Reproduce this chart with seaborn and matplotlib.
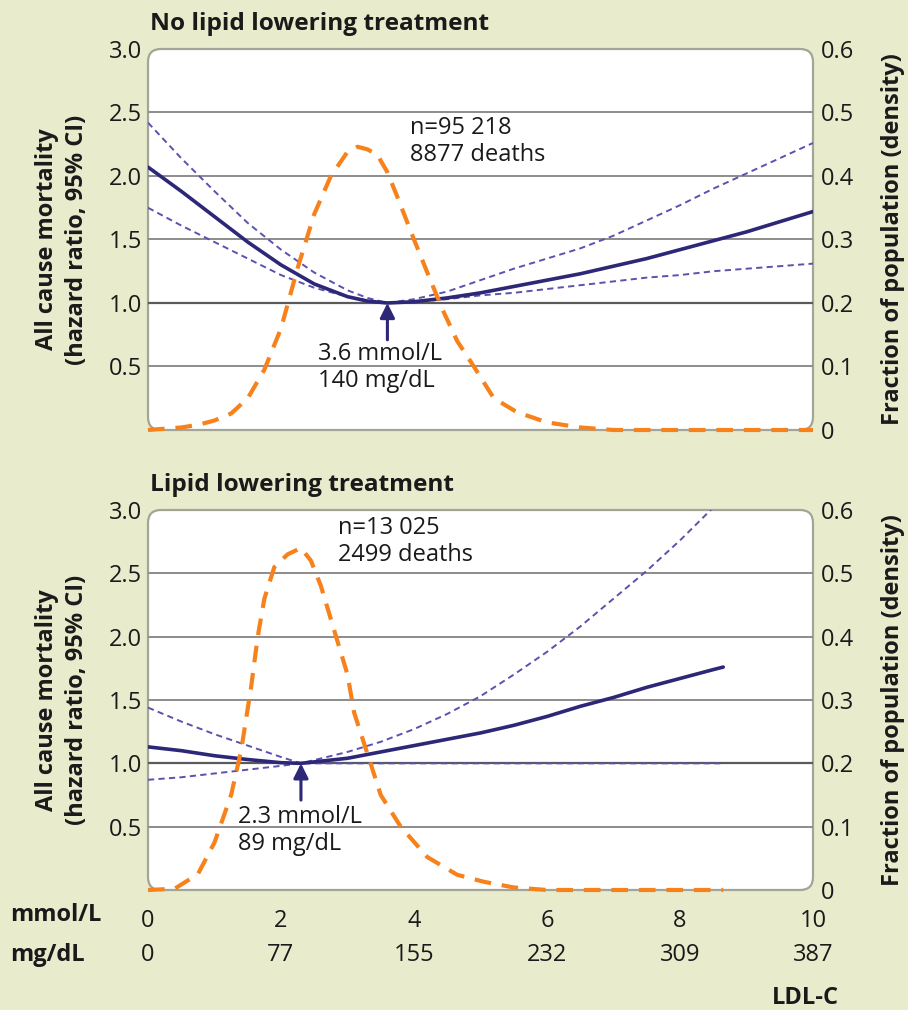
import numpy as np
import pandas as pd
import matplotlib
matplotlib.use("Agg")
import matplotlib.pyplot as plt
from matplotlib.patches import FancyBboxPatch
from matplotlib.transforms import blended_transform_factory
import seaborn as sns

# ---- data: hazard ratio curves (LDL-C in mmol/L) ----
no_tx_x = [0, 0.5, 1.0, 1.5, 2.0, 2.5, 3.0, 3.3, 3.6, 4.0, 4.5, 5.0, 5.5, 6.0,
           6.5, 7.0, 7.5, 8.0, 8.5, 9.0, 9.5, 10.0]
no_tx_hr = [2.07, 1.88, 1.68, 1.48, 1.30, 1.15, 1.05, 1.015, 1.0, 1.01, 1.04, 1.08,
            1.13, 1.18, 1.23, 1.29, 1.35, 1.42, 1.49, 1.56, 1.64, 1.72]
no_tx_hi = [2.42, 2.14, 1.88, 1.63, 1.42, 1.24, 1.10, 1.04, 1.0, 1.03, 1.09, 1.18,
            1.27, 1.35, 1.43, 1.53, 1.65, 1.77, 1.90, 2.02, 2.14, 2.26]
no_tx_lo = [1.75, 1.61, 1.48, 1.35, 1.22, 1.12, 1.05, 1.02, 1.0, 1.01, 1.03, 1.06,
            1.08, 1.11, 1.14, 1.17, 1.20, 1.22, 1.25, 1.27, 1.29, 1.31]

tx_x = [0, 0.5, 1.0, 1.5, 2.0, 2.3, 3.0, 3.5, 4.0, 4.5, 5.0, 5.5, 6.0, 6.5,
        7.0, 7.5, 8.0, 8.5, 8.65]
tx_hr = [1.13, 1.10, 1.06, 1.03, 1.005, 1.0, 1.04, 1.09, 1.14, 1.19, 1.24, 1.30,
         1.37, 1.45, 1.52, 1.60, 1.67, 1.74, 1.76]
tx_hi = [1.44, 1.33, 1.23, 1.14, 1.05, 1.0, 1.09, 1.17, 1.27, 1.39, 1.53, 1.70,
         1.88, 2.08, 2.30, 2.52, 2.76, 3.02, 3.10]
tx_lo = [0.87, 0.89, 0.92, 0.95, 0.98, 1.0, 1.0, 1.0, 1.0, 1.0, 1.0, 1.0,
         1.0, 1.0, 1.0, 1.0, 1.0, 1.0, 1.0]

# ---- data: population density of LDL-C ----
no_tx_dens_x = [0, 0.5, 0.75, 1.0, 1.25, 1.5, 1.75, 2.0, 2.25, 2.5, 2.75, 3.0, 3.15,
                3.3, 3.45, 3.6, 3.75, 4.0, 4.25, 4.45, 4.65, 4.9, 5.2, 5.55, 6.0,
                6.5, 7.0, 8.0, 9.0, 10.0]
no_tx_dens = [0, 0.004, 0.008, 0.015, 0.026, 0.05, 0.095, 0.16, 0.255, 0.34, 0.40,
              0.438, 0.446, 0.442, 0.433, 0.406, 0.367, 0.30, 0.235, 0.185, 0.14,
              0.10, 0.05, 0.028, 0.012, 0.004, 0.0, 0.0, 0.0, 0.0]

tx_dens_x = [0, 0.4, 0.75, 1.0, 1.25, 1.4, 1.55, 1.65, 1.75, 1.9, 2.1, 2.3, 2.45,
             2.6, 2.8, 3.0, 3.1, 3.3, 3.5, 3.8, 4.2, 4.65, 5.05, 5.5, 6.0, 7.0,
             8.0, 8.65]
tx_dens = [0, 0.002, 0.025, 0.075, 0.15, 0.22, 0.32, 0.40, 0.46, 0.51, 0.53, 0.54,
           0.52, 0.48, 0.41, 0.34, 0.28, 0.215, 0.15, 0.10, 0.052, 0.024, 0.013,
           0.004, 0.0, 0.0, 0.0, 0.0]

# ---- labels ----
panel_titles = ["No lipid lowering treatment", "Lipid lowering treatment"]
sample_text = ["n=95 218\n8877 deaths", "n=13 025\n2499 deaths"]
nadir_mmol = [3.6, 2.3]
nadir_mgdl = [140, 89]
mmol_ticks = [0, 2, 4, 6, 8, 10]
mgdl_ticks = [0, 77, 155, 232, 309, 387]
hr_ticks = [0.5, 1.0, 1.5, 2.0, 2.5, 3.0]
dens_ticks = [0, 0.1, 0.2, 0.3, 0.4, 0.5, 0.6]

BG = "#e8ebcc"
NAVY = "#2c2777"
PURPLE = "#5a52ad"
ORANGE = "#f7821c"
GRID = "#8c8c8c"
TXT = "#1a1a1a"

sns.set_theme(style="white")
plt.rcParams["font.family"] = ["Open Sans", "DejaVu Sans"]
plt.rcParams["text.color"] = TXT

FS = 17

fig = plt.figure(figsize=(9.08, 10.1), dpi=100, facecolor=BG)
W, H = 908, 1010
left, right = 148 / W, 813 / W
panels = [
    dict(top=49, bottom=430, x=no_tx_x, hr=no_tx_hr, hi=no_tx_hi, lo=no_tx_lo,
         dx=no_tx_dens_x, d=no_tx_dens, n_pos=(3.94, 2.47), nadir_txt=(2.56, 0.69)),
    dict(top=510, bottom=890, x=tx_x, hr=tx_hr, hi=tx_hi, lo=tx_lo,
         dx=tx_dens_x, d=tx_dens, n_pos=(2.86, 2.95), nadir_txt=(1.35, 0.67)),
]

for i, p in enumerate(panels):
    ax = fig.add_axes([left, 1 - p["bottom"] / H, right - left, (p["bottom"] - p["top"]) / H])
    ax.set_facecolor("none")
    for s in ax.spines.values():
        s.set_visible(False)
    w_px = (right - left) * W
    h_px = p["bottom"] - p["top"]
    r = 13 / w_px
    box = FancyBboxPatch((0, 0), 1, 1, boxstyle=f"round,pad=0,rounding_size={r}",
                         mutation_aspect=w_px / h_px, transform=ax.transAxes,
                         facecolor="white", edgecolor="#a3a596", linewidth=1.6,
                         zorder=0, clip_on=False)
    ax.add_patch(box)

    ax.set_xlim(0, 10)
    ax.set_ylim(0, 3.0)
    for yv in hr_ticks[:-1]:
        ax.axhline(yv, color="#5a5a5a" if yv == 1.0 else GRID,
                   lw=1.6 if yv == 1.0 else 1.4, zorder=1)

    df = pd.DataFrame({"ldl": p["x"], "hr": p["hr"], "hi": p["hi"], "lo": p["lo"]})
    sns.lineplot(data=df, x="ldl", y="hi", ax=ax, color=PURPLE, lw=1.4,
                 linestyle=(0, (3.2, 2.2)), zorder=3)
    sns.lineplot(data=df, x="ldl", y="lo", ax=ax, color=PURPLE, lw=1.4,
                 linestyle=(0, (3.2, 2.2)), zorder=3)
    sns.lineplot(data=df, x="ldl", y="hr", ax=ax, color=NAVY, lw=2.6, zorder=4)

    ax.set_yticks(hr_ticks)
    ax.set_yticklabels([f"{v:.1f}" for v in hr_ticks], fontsize=FS, color=TXT)
    ax.tick_params(axis="y", length=0, pad=4)
    ax.set_xticks(mmol_ticks)
    ax.tick_params(axis="x", direction="in", length=9, width=1.2, color="#8a8a8a",
                   pad=14, labelsize=FS, labelcolor=TXT)
    ax.set_xlabel("")
    ax.set_ylabel("")
    if i == 0:
        ax.set_xticklabels([])
    else:
        ax.set_xticklabels([str(v) for v in mmol_ticks])
        tr = blended_transform_factory(ax.transData, fig.transFigure)
        for xv, lab in zip(mmol_ticks, mgdl_ticks):
            ax.text(xv, 1 - 955 / H, str(lab), transform=tr, ha="center", va="center",
                    fontsize=FS, color=TXT)
        fig.text(10 / W, 1 - 915 / H, "mmol/L", ha="left", va="center",
                 fontsize=FS, fontweight="bold")
        fig.text(10 / W, 1 - 955 / H, "mg/dL", ha="left", va="center",
                 fontsize=FS, fontweight="bold")
        fig.text(805 / W, 1 - 998 / H, "LDL-C", ha="center", va="center",
                 fontsize=FS, fontweight="bold")

    # density on the secondary axis
    ax2 = ax.twinx()
    for s in ax2.spines.values():
        s.set_visible(False)
    ax2.set_ylim(0, 0.6)
    dd = pd.DataFrame({"ldl": p["dx"], "dens": p["d"]})
    sns.lineplot(data=dd, x="ldl", y="dens", ax=ax2, color=ORANGE, lw=3.0,
                 linestyle=(0, (4.0, 2.6)), clip_on=False, zorder=5)
    ax2.set_yticks(dens_ticks)
    ax2.set_yticklabels(["0" if v == 0 else f"{v:.1f}" for v in dens_ticks],
                        fontsize=FS, color=TXT)
    ax2.tick_params(axis="y", length=0, pad=6)
    ax2.set_ylabel("")
    ax2.set_xlabel("")

    # nadir arrow and annotations
    xm = nadir_mmol[i]
    ax.annotate("", xy=(xm, 1.0), xytext=(xm, 0.71),
                arrowprops=dict(arrowstyle="-|>", color=NAVY, lw=2.2,
                                mutation_scale=22, shrinkA=0, shrinkB=0), zorder=6)
    tx, ty = p["nadir_txt"]
    ax.text(tx, ty, f"{xm} mmol/L\n{nadir_mgdl[i]} mg/dL", ha="left", va="top",
            fontsize=FS, color=TXT, linespacing=1.15, zorder=7)
    nx, ny = p["n_pos"]
    ax.text(nx, ny, sample_text[i], ha="left", va="top", fontsize=FS, color=TXT,
            linespacing=1.15, zorder=7)

    # panel title and axis titles
    fig.text(150 / W, 1 - (p["top"] - 25) / H, panel_titles[i], ha="left",
             va="center", fontsize=17.6, fontweight="bold")
    cy = 1 - (p["top"] + p["bottom"]) / 2 / H
    fig.text(62 / W, cy, "All cause mortality\n(hazard ratio, 95% CI)", rotation=90,
             ha="center", va="center", fontsize=FS, fontweight="bold",
             linespacing=1.28)
    fig.text(893 / W, cy, "Fraction of population (density)", rotation=90,
             ha="center", va="center", fontsize=FS, fontweight="bold")

fig.savefig("out.png", dpi=100, facecolor=BG)
